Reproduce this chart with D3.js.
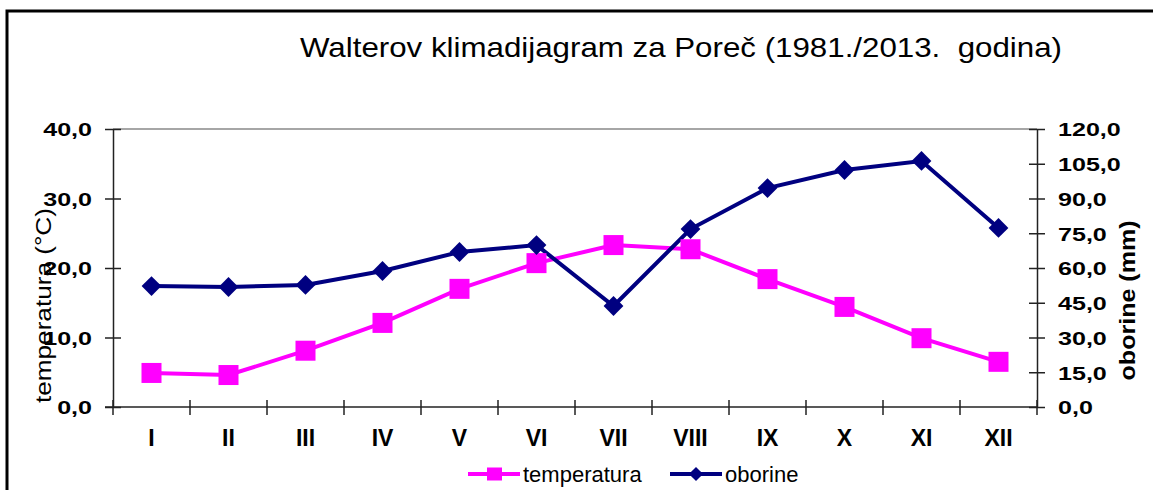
<!DOCTYPE html>
<html>
<head>
<meta charset="utf-8">
<script src="https://cdn.jsdelivr.net/npm/d3@7"></script>
<style>
  body { margin: 0; background: #fff; }
  svg text { font-family: "Liberation Sans", Arial, sans-serif; }
</style>
</head>
<body>
<div id="chart"></div>
<script>
// Data
const months = ["I", "II", "III", "IV", "V", "VI", "VII", "VIII", "IX", "X", "XI", "XII"]
const temperatura = [4.9, 4.6, 8.1, 12.1, 17.0, 20.7, 23.3, 22.7, 18.4, 14.4, 9.9, 6.5]
const oborine = [52.2, 51.8, 52.7, 58.7, 66.9, 69.9, 43.6, 76.8, 94.5, 102.3, 106.2, 77.3]
const tempTicks = [0, 10, 20, 30, 40]
const rainTicks = [0, 15, 30, 45, 60, 75, 90, 105, 120]

const width = 1153
const height = 490
const plot = { left: 113, right: 1037, top: 129, bottom: 407 }

const fmt = d => d3.format(".1f")(d).replace(".", ",")

// widen glyphs horizontally (the original chart was stretched sideways)
function stretch(sel, k) {
  sel.each(function() {
    const len = this.getComputedTextLength()
    d3.select(this)
      .attr("textLength", len * k)
      .attr("lengthAdjust", "spacingAndGlyphs")
  })
}

const svg = d3.select("#chart")
  .append("svg")
    .attr("width", width)
    .attr("height", height)

// outer frame (only top and left edges are visible in the crop)
svg.append("path")
    .attr("d", `M7,490 V11 H${width}`)
    .attr("fill", "none")
    .attr("stroke", "#000")
    .attr("stroke-width", 3)

// title
svg.append("text")
    .attr("x", 681)
    .attr("y", 57)
    .attr("text-anchor", "middle")
    .attr("font-size", 28)
    .attr("textLength", 762)
    .attr("lengthAdjust", "spacingAndGlyphs")
    .style("white-space", "pre")
    .text("Walterov klimadijagram za Poreč (1981./2013.  godina)")

// scales
const x = d3.scaleBand()
    .domain(months)
    .range([plot.left, plot.right])

const yTemp = d3.scaleLinear()
    .domain([0, 40])
    .range([plot.bottom, plot.top])

const yRain = d3.scaleLinear()
    .domain([0, 120])
    .range([plot.bottom, plot.top])

// top border of plot area
svg.append("line")
    .attr("x1", plot.left).attr("x2", plot.right)
    .attr("y1", plot.top).attr("y2", plot.top)
    .attr("stroke", "#888")
    .attr("stroke-width", 1.5)

// axes
function styleAxis(g, size) {
  g.selectAll("path, line").attr("stroke", "#222").attr("stroke-width", 1.5)
  g.selectAll("text")
    .attr("font-size", size)
    .attr("font-weight", "bold")
    .attr("fill", "#000")
}

const leftAxis = svg.append("g")
    .attr("transform", `translate(${plot.left},0)`)
    .call(d3.axisLeft(yTemp).tickValues(tempTicks).tickFormat(fmt).tickSizeInner(8).tickSizeOuter(0).tickPadding(13))
leftAxis.selectAll(".tick line").attr("x2", 8).attr("x1", -8)
styleAxis(leftAxis, 19)
leftAxis.selectAll("text").attr("dy", "0.36em").attr("x", -21)
stretch(leftAxis.selectAll("text"), 1.32)

const rightAxis = svg.append("g")
    .attr("transform", `translate(${plot.right},0)`)
    .call(d3.axisRight(yRain).tickValues(rainTicks).tickFormat(fmt).tickSizeInner(8).tickSizeOuter(0).tickPadding(13))
rightAxis.selectAll(".tick line").attr("x1", -8).attr("x2", 8)
styleAxis(rightAxis, 19)
rightAxis.selectAll("text").attr("dy", "0.36em").attr("x", 21)
stretch(rightAxis.selectAll("text"), 1.32)

// x axis with ticks between categories
const xAxis = svg.append("g")
    .attr("transform", `translate(0,${plot.bottom})`)
xAxis.append("line")
    .attr("x1", plot.left - 8).attr("x2", plot.right)
    .attr("y1", 0).attr("y2", 0)
const bounds = months.map(m => x(m)).concat([plot.right])
xAxis.selectAll(".sep")
  .data(bounds)
  .join("line")
    .attr("class", "sep")
    .attr("x1", d => d).attr("x2", d => d)
    .attr("y1", -7).attr("y2", 8)
xAxis.selectAll(".lbl")
  .data(months)
  .join("text")
    .attr("class", "lbl")
    .attr("x", d => x(d) + x.bandwidth() / 2)
    .attr("y", 39)
    .attr("text-anchor", "middle")
    .text(d => d)
styleAxis(xAxis, 23)

// axis titles
svg.append("text")
    .attr("transform", `translate(51,${yTemp(14.6)}) rotate(-90)`)
    .attr("text-anchor", "middle")
    .attr("font-size", 22)
    .attr("textLength", 195)
    .attr("lengthAdjust", "spacingAndGlyphs")
    .text("temperatura (°C)")

svg.append("text")
    .attr("transform", `translate(1135,${yRain(46)}) rotate(-90)`)
    .attr("text-anchor", "middle")
    .attr("font-size", 22)
    .attr("font-weight", "bold")
    .attr("textLength", 160)
    .attr("lengthAdjust", "spacingAndGlyphs")
    .text("oborine (mm)")

const cx = (d, i) => x(months[i]) + x.bandwidth() / 2

// temperature line
svg.append("path")
    .datum(temperatura)
    .attr("fill", "none")
    .attr("stroke", "#ff00ff")
    .attr("stroke-width", 4)
    .attr("d", d3.line().x(cx).y(d => yTemp(d)))

// precipitation line
svg.append("path")
    .datum(oborine)
    .attr("fill", "none")
    .attr("stroke", "#000080")
    .attr("stroke-width", 4)
    .attr("d", d3.line().x(cx).y(d => yRain(d)))

// markers
svg.append("g").selectAll("rect")
  .data(temperatura)
  .join("rect")
    .attr("x", (d, i) => cx(d, i) - 10)
    .attr("y", d => yTemp(d) - 10)
    .attr("width", 20)
    .attr("height", 20)
    .attr("fill", "#ff00ff")

svg.append("g").selectAll("path")
  .data(oborine)
  .join("path")
    .attr("transform", (d, i) => `translate(${cx(d, i)},${yRain(d)}) rotate(45)`)
    .attr("d", "M-7,-7H7V7H-7Z")
    .attr("fill", "#000080")

// legend
const legend = svg.append("g").attr("transform", "translate(0,474)")
const items = [
  { name: "temperatura", color: "#ff00ff", x: 468, shape: "square" },
  { name: "oborine", color: "#000080", x: 670, shape: "diamond" },
]
items.forEach(it => {
  const g = legend.append("g").attr("transform", `translate(${it.x},0)`)
  g.append("line")
      .attr("x1", 0).attr("x2", 52)
      .attr("stroke", it.color)
      .attr("stroke-width", 4)
  if (it.shape === "square") {
    g.append("rect")
        .attr("x", 19).attr("y", -6.5)
        .attr("width", 15).attr("height", 13)
        .attr("fill", it.color)
  } else {
    g.append("path")
        .attr("transform", "translate(26,0) rotate(45)")
        .attr("d", "M-5,-5H5V5H-5Z")
        .attr("fill", it.color)
  }
  g.append("text")
      .attr("x", 55)
      .attr("y", 0)
      .attr("dy", "0.35em")
      .attr("font-size", 22)
      .text(it.name)
})
</script>
</body>
</html>
